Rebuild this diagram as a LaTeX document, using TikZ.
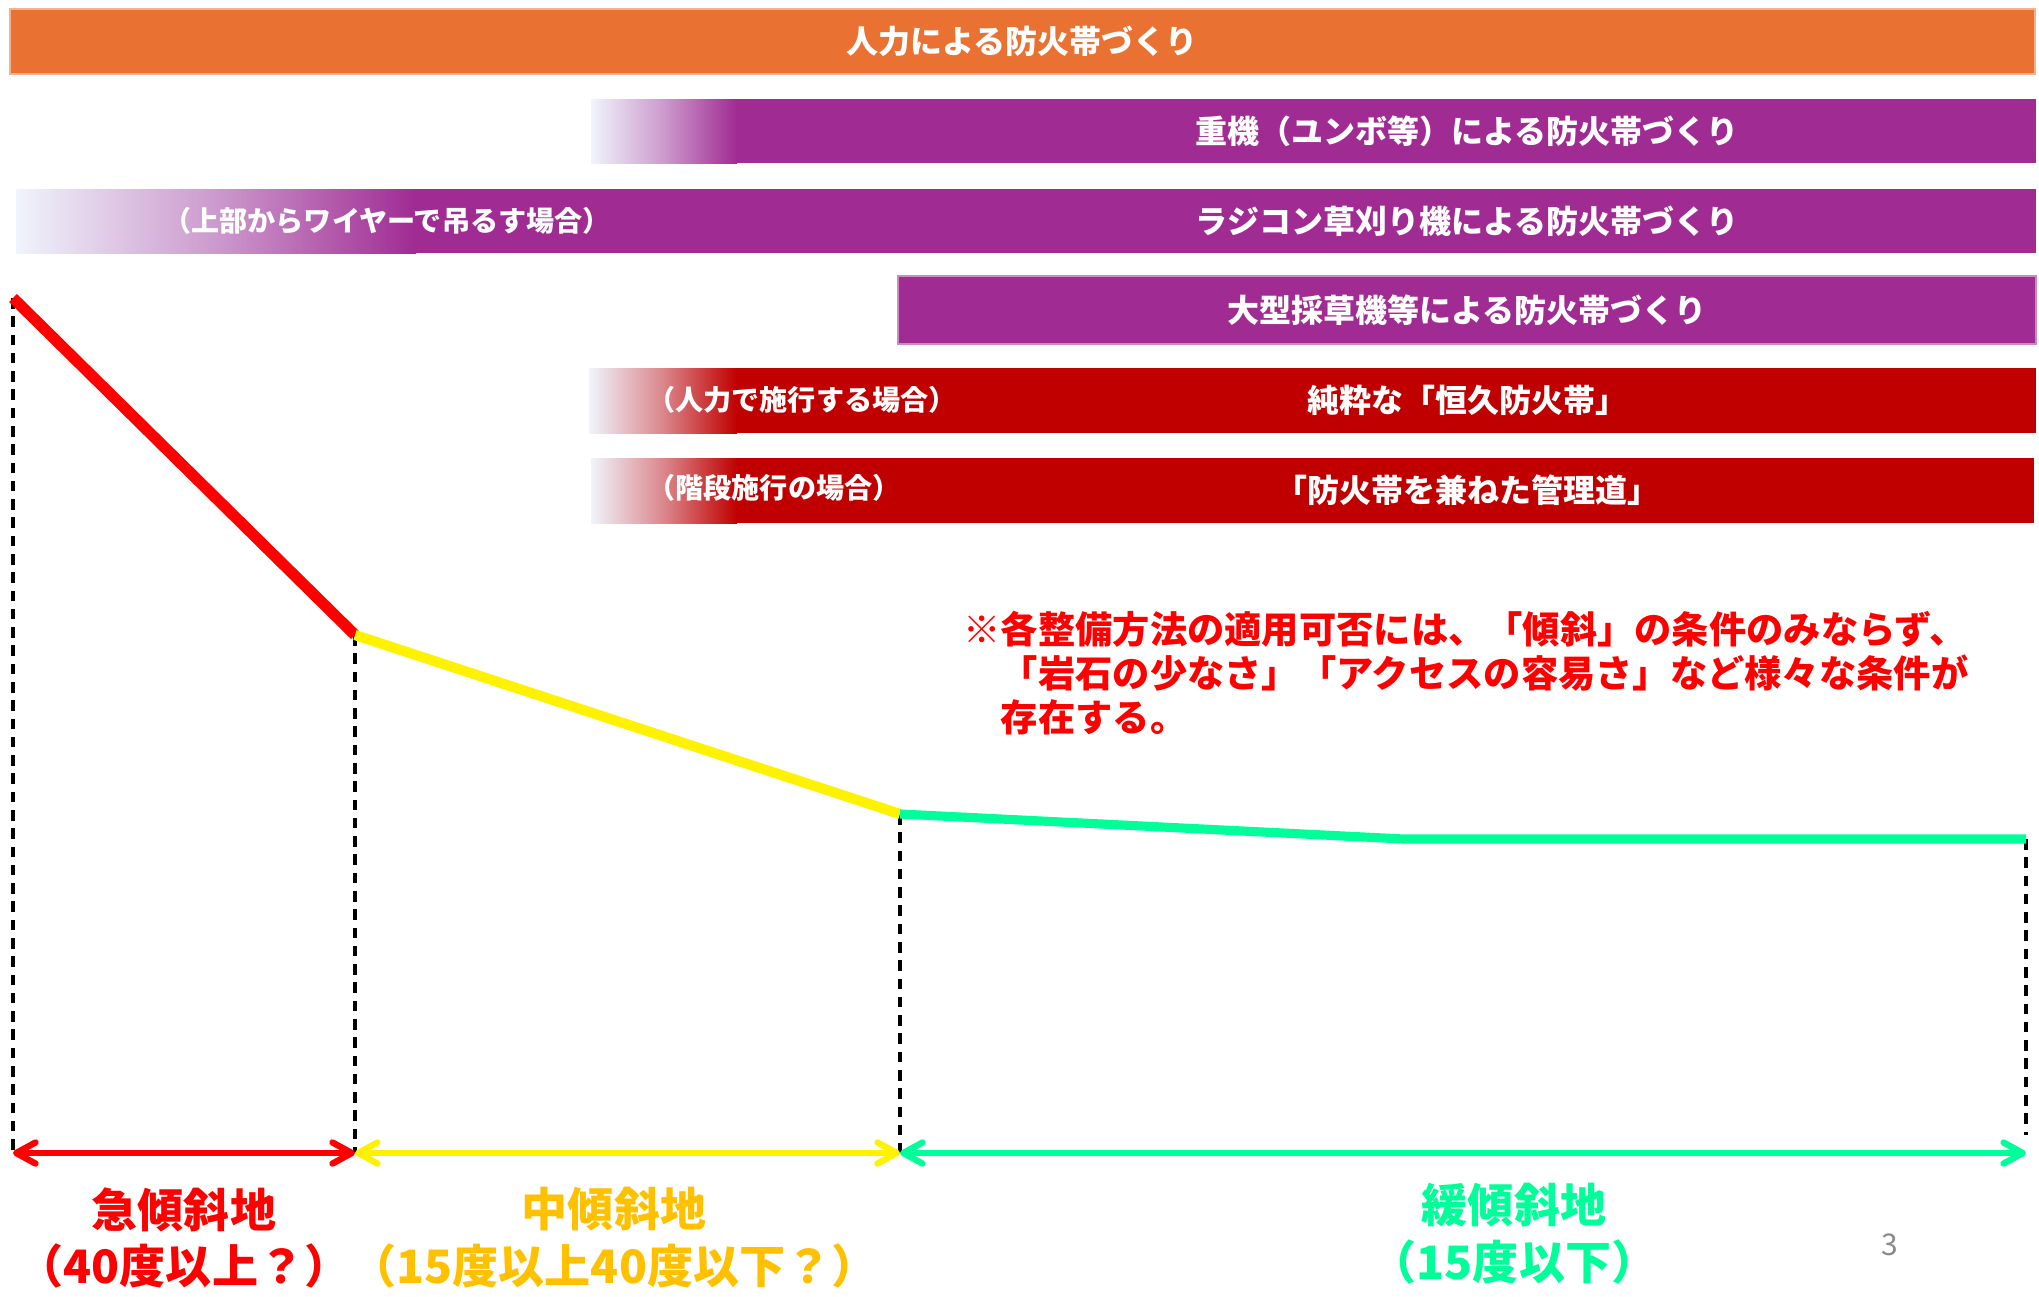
\documentclass[tikz,border=0pt]{standalone}
\usepackage{fontspec}
\setmainfont{Noto Sans CJK JP}
\usepackage{tikz}
\usetikzlibrary{arrows.meta}
\definecolor{barorange}{HTML}{E97132}
\definecolor{barpurple}{HTML}{A02B93}
\definecolor{bardark}{HTML}{C00000}
\definecolor{fadestart}{HTML}{F0F4FC}
\definecolor{slopegreen}{HTML}{00FF99}
\definecolor{slopegold}{HTML}{FFC000}
\definecolor{pagegray}{HTML}{8A8A8A}
\def\fadebar[#1](#2:#3:#4)(#5:#6){\shade[left color=fadestart, right color=#1, middle color=#1!45!fadestart] (#2,#5) rectangle (#3,#6); \fill[#1] (#3-1,#5) rectangle (#4,#6);}
\tikzset{
	bartext/.style={text=white, font=\bfseries\fontsize{9.1}{11}\selectfont},
	subtext/.style={text=white, font=\bfseries\fontsize{8}{10}\selectfont},
	zonetext/.style={align=center, font=\bfseries\fontsize{13.1}{16.2}\selectfont},
	guide/.style={line width=1.1pt, dash pattern=on 3pt off 2.2pt},
	span/.style={line width=1.8pt, {Straight Barb[length=5.5pt,width=6pt,round]}-{Straight Barb[length=5.5pt,width=6pt,round]}}
}

\begin{document}
\begin{tikzpicture}[x=0.01cm, y=-0.01cm]
		%%%%% START %%%%%
		\useasboundingbox (0, 0) rectangle (2039, 1296);
		
		\draw[fill=barorange, draw=barorange!55!white, line width=0.5pt] (10, 9) rectangle (2035, 74);
		\node[bartext] (manual) at (1022, 41) {人力による防火帯づくり};
		
		\fadebar[barpurple](591:737:2036)(99:163);
		\node[bartext] (heavy) at (1467, 131) {重機（ユンボ等）による防火帯づくり};
		
		\fadebar[barpurple](16:416:2036)(189:253);
		\node[subtext] (wire) at (387, 221) {（上部からワイヤーで吊るす場合）};
		\node[bartext] (radio) at (1467, 221) {ラジコン草刈り機による防火帯づくり};
		
		\draw[fill=barpurple, draw=barpurple!55!white, line width=0.5pt] (898, 276) rectangle (2036, 344);
		\node[bartext] (mower) at (1467, 310) {大型採草機等による防火帯づくり};
		
		\fadebar[bardark](589:737:2036)(368:433);
		\node[subtext] (byhand) at (802, 400) {（人力で施行する場合）};
		\node[bartext] (permanent) at (1467, 400) {純粋な「恒久防火帯」};
		
		\fadebar[bardark](591:737:2034)(458:523);
		\node[subtext] (steps) at (774, 488) {（階段施行の場合）};
		\node[bartext] (road) at (1467, 490) {「防火帯を兼ねた管理道」};
		
		% slope profile
		\coordinate (p0) at (13, 298);
		\coordinate (p1) at (355, 635);
		\coordinate (p2) at (900, 814);
		\coordinate (p3) at (1404, 839);
		\coordinate (p4) at (2026, 839);
		\coordinate (b0) at (13, 1153);
		\coordinate (b1) at (355, 1153);
		\coordinate (b2) at (900, 1153);
		\coordinate (b3) at (2026, 1153);
		\coordinate (e4) at (2026, 1135);
		
		\draw[guide] (p0) -- (b0);
		\draw[guide] (p1) -- (b1);
		\draw[guide] (p2) -- (b2);
		\draw[guide] (p4) -- (e4);
		
		\draw[line width=3.2pt, color=red] (p0) -- (p1);
		\draw[line width=2.9pt, color=yellow] (p1) -- (p2);
		\draw[line width=2.6pt, color=slopegreen] (p2) -- (p3) -- (p4);
		
		\draw[span, color=red] (b0) -- (b1);
		\draw[span, color=yellow] (b1) -- (b2);
		\draw[span, color=slopegreen] (b2) -- (b3);
		
		\node[zonetext, text=red] (steep) at (184, 1238) {急傾斜地\\（40度以上？）};
		\node[zonetext, text=slopegold] (middle) at (614, 1238) {中傾斜地\\（15度以上40度以下？）};
		\node[zonetext, text=slopegreen] (gentle) at (1514, 1234) {緩傾斜地\\（15度以下）};
		
		\node[anchor=west, inner sep=0, align=left, text=red, font=\bfseries\fontsize{10.6}{12.4}\selectfont] (note) at (963, 673) {※各整備方法の適用可否には、「傾斜」の条件のみならず、\\\hspace*{1em}「岩石の少なさ」「アクセスの容易さ」など様々な条件が\\\hspace*{1em}存在する。};
		
		\node[text=pagegray, font=\fontsize{8.5}{10}\selectfont] (page) at (1890, 1245) {3};
		%%%%% END %%%%%
\end{tikzpicture}
\end{document}
